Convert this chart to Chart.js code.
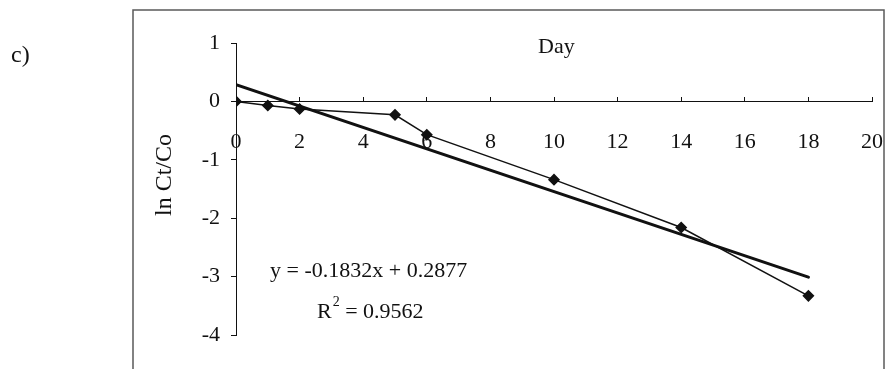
<!DOCTYPE html>
<html lang="en">
  <head>
    <meta charset="UTF-8" />
    <title>ln Ct/Co vs Day</title>
    <script src="https://cdn.jsdelivr.net/npm/chart.js"></script>
    <style>
      body { margin: 0; background: #fff; }
      canvas { display: block; }
    </style>
  </head>
  <body>
    <canvas id="myChart" width="887" height="369"></canvas>

    <script>
      // DATA
      const days = [0, 1, 2, 5, 6, 10, 14, 18];
      const lnRatio = [0, -0.07, -0.13, -0.23, -0.57, -1.34, -2.16, -3.33];
      const trendDays = [0, 18];
      const trendValues = [0.2877, -3.01];
      const xTicks = [0, 2, 4, 6, 8, 10, 12, 14, 16, 18, 20];
      const yTicks = [1, 0, -1, -2, -3, -4];

      const ink = '#111';
      const serif = "'Liberation Serif', 'DejaVu Serif', serif";

      // frame + annotations drawn on top of the chart
      const extras = {
        id: 'extras',
        beforeDraw(chart) {
          const ctx = chart.ctx;
          ctx.save();
          ctx.fillStyle = '#fff';
          ctx.fillRect(0, 0, chart.width, chart.height);
          ctx.restore();
        },
        afterDraw(chart) {
          const ctx = chart.ctx;
          ctx.save();
          // box around the plot
          ctx.strokeStyle = '#5a5a5a';
          ctx.lineWidth = 1.5;
          ctx.strokeRect(133, 10, 751, 380);

          ctx.fillStyle = ink;
          ctx.textBaseline = 'alphabetic';
          ctx.font = '24px ' + serif;
          ctx.textAlign = 'left';
          ctx.fillText('c)', 11, 62);

          ctx.font = '22px ' + serif;
          ctx.fillText('Day', 538, 53);

          ctx.fillText('y = -0.1832x + 0.2877', 270, 277);
          ctx.fillText('R', 317, 318);
          let w = ctx.measureText('R').width;
          ctx.font = '14px ' + serif;
          ctx.fillText('2', 317 + w + 1, 306);
          ctx.font = '22px ' + serif;
          ctx.fillText(' = 0.9562', 317 + w + 8, 318);

          // y axis title
          ctx.translate(171, 175);
          ctx.rotate(-Math.PI / 2);
          ctx.textAlign = 'center';
          ctx.font = '24px ' + serif;
          ctx.fillText('ln Ct/Co', 0, 0);
          ctx.restore();
        }
      };

      const data = {
        datasets: [
          {
            label: 'ln Ct/Co',
            data: days.map((d, i) => ({ x: d, y: lnRatio[i] })),
            borderColor: ink,
            backgroundColor: ink,
            borderWidth: 1.5,
            pointStyle: 'rectRot',
            pointRadius: 5,
            showLine: true
          },
          {
            label: 'Linear',
            data: trendDays.map((d, i) => ({ x: d, y: trendValues[i] })),
            borderColor: ink,
            borderWidth: 3,
            pointRadius: 0,
            showLine: true,
            borderCapStyle: 'round'
          }
        ]
      };

      const options = {
        responsive: false,
        animation: false,
        layout: { padding: { left: 133, right: 15, top: 43, bottom: 34 } },
        plugins: { legend: { display: false }, tooltip: { enabled: false } },
        scales: {
          x: {
            type: 'linear',
            position: { y: 0 },
            min: 0,
            max: 20,
            afterBuildTicks: (scale) => { scale.ticks = xTicks.map(v => ({ value: v })); },
            afterFit: (scale) => {
              scale.height = 0;
              scale.paddingLeft = 0;
              scale.paddingRight = 0;
            },
            border: { display: true, color: ink, width: 1 },
            grid: { drawOnChartArea: false, drawTicks: true, tickLength: -5, color: ink },
            ticks: { color: ink, font: { family: serif, size: 22 }, padding: 33, maxRotation: 0 }
          },
          y: {
            type: 'linear',
            min: -4,
            max: 1,
            afterBuildTicks: (scale) => { scale.ticks = yTicks.map(v => ({ value: v })); },
            afterFit: (scale) => { scale.width = 103; },
            border: { display: true, color: ink, width: 1 },
            grid: { drawOnChartArea: false, drawTicks: true, tickLength: 5, color: ink },
            ticks: { color: ink, font: { family: serif, size: 22 }, padding: 11 }
          }
        }
      };

      new Chart(document.getElementById('myChart'), {
        type: 'scatter',
        data: data,
        options: options,
        plugins: [extras]
      });
    </script>
  </body>
</html>
